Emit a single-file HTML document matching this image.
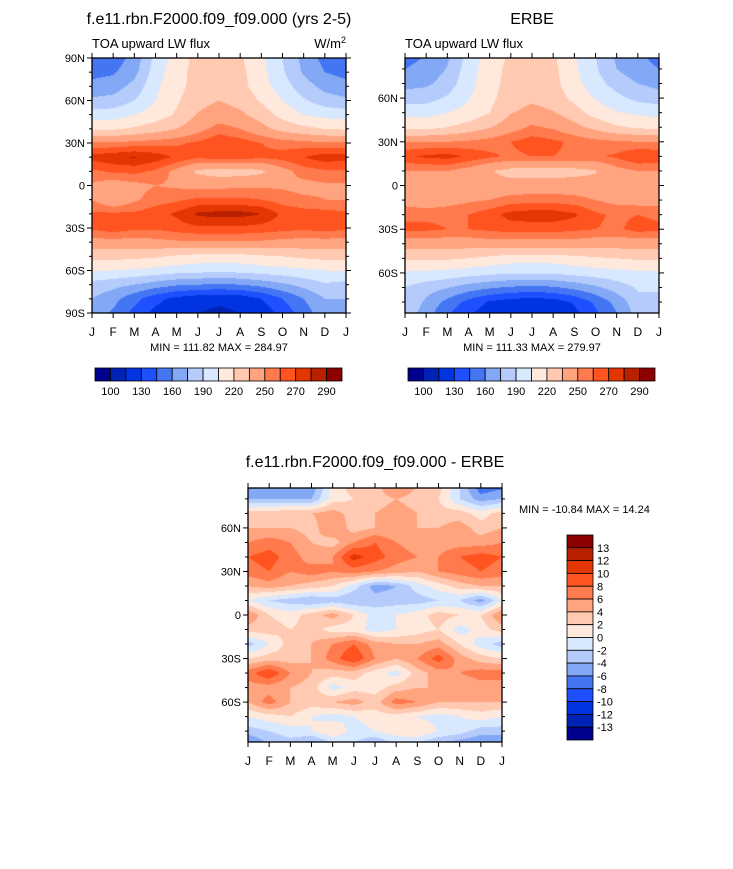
<!DOCTYPE html>
<html><head><meta charset="utf-8">
<style>
html,body{margin:0;padding:0;background:#fff;}
#wrap{position:relative;width:733px;height:869px;overflow:hidden;font-family:"Liberation Sans",Arial,sans-serif;}
canvas{position:absolute;}
svg{position:absolute;left:0;top:0;}
</style></head>
<body>
<div id="wrap">
<canvas id="c1" style="left:92px;top:58px" width="254" height="255"></canvas>
<canvas id="c2" style="left:405px;top:58px" width="254" height="255"></canvas>
<canvas id="c3" style="left:248px;top:488px" width="254" height="254"></canvas>
<svg id="ov" width="733" height="869"></svg>
</div>
<script>
// ---- data ----
const months = ["J","F","M","A","M","J","J","A","S","O","N","D","J"];
const lats = [90,80,70,60,50,40,30,20,10,0,-10,-20,-30,-40,-50,-60,-70,-80,-90];
const fluxLevels = [100,115,130,145,160,175,190,205,220,235,250,260,270,280,290];
const fluxLabels = ["100","130","160","190","220","250","270","290"];
const diffLevels = [-13,-12,-10,-8,-6,-4,-2,0,2,4,6,8,10,12,13];
const diffLabels = ["-13","-12","-10","-8","-6","-4","-2","0","2","4","6","8","10","12","13"];
const palette = ["#00008e","#0022b4","#0034e0","#1e50ff","#4476f4","#82a8f6","#b4cbfc","#d8e8fe","#ffe9dc","#ffc9b2","#ffa47e","#ff7a4c","#ff5320","#e43600","#b82000","#8c0000"];
const modelFlux = [
[150,152,165,195,212,225,228,222,208,190,170,155,150],
[155,158,170,198,214,226,228,224,210,192,173,160,155],
[165,168,180,202,215,226,228,225,212,197,182,170,165],
[178,180,190,205,218,230,235,230,218,205,192,182,178],
[198,198,205,212,222,236,242,238,228,215,205,200,198],
[218,218,222,228,235,245,255,250,240,230,224,220,218],
[252,252,254,256,258,262,268,265,260,256,254,252,252],
[274,278,281,276,268,262,265,265,262,264,270,276,274],
[258,262,263,258,246,232,228,228,232,245,255,258,258],
[248,242,246,250,248,246,246,248,248,248,246,248,248],
[250,238,248,255,258,262,262,262,260,255,252,250,250],
[262,262,262,266,272,282,284,284,280,268,265,264,262],
[262,266,262,262,265,268,268,268,266,264,262,265,262],
[245,245,245,246,248,248,248,248,248,246,245,245,245],
[225,225,224,222,218,215,215,215,218,220,223,225,225],
[205,205,203,200,197,195,195,195,198,200,202,205,205],
[185,180,175,168,162,160,158,160,165,172,180,188,185],
[175,165,150,135,125,120,118,120,130,145,160,175,175],
[165,158,140,125,118,115,112,115,120,135,152,170,165]];
const erbeFlux = [
[155,160,172,195,212,222,226,222,206,190,172,162,155],
[160,164,176,198,214,224,227,224,208,192,175,165,160],
[170,172,182,200,215,225,228,225,210,196,184,175,170],
[182,184,192,204,216,228,232,228,216,204,194,186,182],
[200,200,205,210,220,234,240,236,226,214,206,202,200],
[215,215,220,226,234,244,252,248,240,230,222,218,215],
[250,250,250,252,255,260,265,262,258,254,252,250,250],
[268,272,274,268,262,258,260,260,258,258,262,270,268],
[250,250,250,244,236,230,228,228,230,234,245,250,250],
[240,236,238,240,240,240,242,242,242,240,238,238,240],
[244,240,244,248,250,255,256,256,254,250,246,244,244],
[258,258,258,260,266,274,276,276,272,262,258,260,258],
[262,262,260,260,262,264,264,264,262,260,258,264,262],
[242,242,242,242,244,244,244,244,244,242,242,242,242],
[222,222,222,220,216,212,212,212,215,218,220,222,222],
[202,202,200,197,194,192,192,192,195,198,200,202,202],
[190,182,176,168,162,158,156,158,164,172,182,192,190],
[190,172,155,140,128,122,120,122,132,148,165,185,190],
[185,165,145,130,120,116,113,116,124,140,158,180,185]];
const diffField = [
[-7,-5,-4,-6,1,3,3,7,4,3,-2,-8,-7],
[-4,-4,-4,-4,1,2,3,4,3,2,-2,-5,-4],
[3,3,4,4,5,3,4,5,4,3,3,1,3],
[4,4,4,3,6,3,4,4,4,4,5,3,4],
[6,7,6,4,3,6,8,6,5,5,5,5,6],
[8,9,7,5,6,11,9,7,6,6,8,9,8],
[7,8,6,7,6,7,6,5,4,6,7,8,7],
[4,5,4,3,2,-1,-5,-4,-1,1,3,4,4],
[0,-2,-3,-4,-3,-4,-3,-3,-3,-2,-2,-5,0],
[6,2,1,3,5,2,-1,0,1,3,2,2,6],
[3,3,2,3,1,1,-1,0,1,2,-1,1,3],
[-3,0,3,4,6,8,5,4,4,5,2,-1,-3],
[2,3,3,4,7,10,6,4,6,9,5,3,2],
[7,10,6,4,3,3,1,-1,3,5,6,7,7],
[5,5,4,3,-1,1,1,3,4,4,4,5,5],
[4,7,4,3,4,5,3,7,6,4,4,4,4],
[0,1,2,0,-1,0,1,1,0,-1,0,1,0],
[-3,-2,-1,0,2,-1,0,1,2,0,-1,-3,-3],
[-7,-4,-3,-6,-3,-2,-5,-2,-3,-5,-6,-7,-7]];

// ---- drawing ----
function hex(c){return [parseInt(c.substr(1,2),16),parseInt(c.substr(3,2),16),parseInt(c.substr(5,2),16)];}
const palRGB = palette.map(hex);
function levelIndex(v,levels){let k=0;while(k<levels.length&&v>=levels[k])k++;return k;}
function sample(field,lat,t){
  let r=(90-lat)/10; r=Math.max(0,Math.min(18,r));
  let r0=Math.min(17,Math.floor(r)), fr=r-r0;
  let c0=Math.min(11,Math.floor(t)), fc=t-c0;
  const a=field[r0][c0],b=field[r0][c0+1],c=field[r0+1][c0],d=field[r0+1][c0+1];
  return (a*(1-fc)+b*fc)*(1-fr)+(c*(1-fc)+d*fc)*fr;
}
function drawField(id,field,levels,latTop,latBot){
  const cv=document.getElementById(id),ctx=cv.getContext('2d');
  const W=cv.width,H=cv.height,img=ctx.createImageData(W,H);
  for(let y=0;y<H;y++){
    const lat=latTop-(y+0.5)/H*(latTop-latBot);
    for(let x=0;x<W;x++){
      const t=(x+0.5)/W*12;
      const v=sample(field,lat,t);
      const col=palRGB[levelIndex(v,levels)];
      const i=(y*W+x)*4;img.data[i]=col[0];img.data[i+1]=col[1];img.data[i+2]=col[2];img.data[i+3]=255;
    }
  }
  ctx.putImageData(img,0,0);
}
drawField('c1',modelFlux,fluxLevels,90,-90);
drawField('c2',erbeFlux,fluxLevels,87.5,-87.5);
drawField('c3',diffField,diffLevels,87.5,-87.5);

const NS='http://www.w3.org/2000/svg';
const svg=document.getElementById('ov');
function el(tag,attrs,parent){const e=document.createElementNS(NS,tag);for(const k in attrs)e.setAttribute(k,attrs[k]);(parent||svg).appendChild(e);return e;}
function txt(x,y,s,size,anchor,name){const t=el('text',{x:x,y:y,'font-size':size,'text-anchor':anchor||'start',fill:'#000','font-family':'Liberation Sans, Arial, sans-serif'});


t.textContent=s;return t;}

function axes(x0,y0,w,h,latTop,latBot,labels,prefix){
  const g=el('g',{});
  
  
  el('rect',{x:x0,y:y0,width:w,height:h,fill:'none',stroke:'#000','stroke-width':1.3},g);
  const xs=t=>x0+t/12*w, ys=l=>y0+(latTop-l)/(latTop-latBot)*h;
  months.forEach((m,i)=>{
    const x=xs(i);
    el('line',{x1:x,x2:x,y1:y0+h,y2:y0+h+5,stroke:'#000','stroke-width':1},g);
    el('line',{x1:x,x2:x,y1:y0,y2:y0-5,stroke:'#000','stroke-width':1},g);
    txt(x,y0+h+23,m,12,'middle',prefix+'-month-label');
  });
  for(let l=-80;l<=80;l+=10){
    const y=ys(l);if(y<y0-0.5||y>y0+h+0.5)continue;
    const major=(l%30===0);const len=major?5:3;
    el('line',{x1:x0,x2:x0-len,y1:y,y2:y,stroke:'#000','stroke-width':1},g);
    el('line',{x1:x0+w,x2:x0+w+len,y1:y,y2:y,stroke:'#000','stroke-width':1},g);
  }
  [90,-90].forEach(l=>{const y=ys(l);if(y>=y0-0.5&&y<=y0+h+0.5){el('line',{x1:x0,x2:x0-5,y1:y,y2:y,stroke:'#000'},g);el('line',{x1:x0+w,x2:x0+w+5,y1:y,y2:y,stroke:'#000'},g);}});
  labels.forEach(([l,s])=>{txt(x0-7,ys(l)+4,s,11,'end',prefix+'-lat-label');});
}
function hbar(x0,y0,w,h,labelsArr,prefix){
  const n=palette.length,bw=w/n;
  for(let i=0;i<n;i++){const r=el('rect',{x:x0+i*bw,y:y0,width:bw,height:h,fill:palette[i],stroke:'#000','stroke-width':0.8});
    
    }
  labelsArr.forEach((s,j)=>{txt(x0+(2*j+1)*bw,y0+h+14,s,11,'middle',prefix+'-colorbar-label');});
}
txt(219,24,"f.e11.rbn.F2000.f09_f09.000 (yrs 2-5)",16,'middle','model-title');
txt(92,48,"TOA upward LW flux",13,'start','model-variable-label');
const u=txt(346,48,"W/m",13,'end','model-units');
const sup=document.createElementNS(NS,'tspan');sup.setAttribute('dy','-5');sup.setAttribute('font-size','9');sup.textContent='2';u.appendChild(sup);
axes(92,58,254,255,90,-90,[[90,'90N'],[60,'60N'],[30,'30N'],[0,'0'],[-30,'30S'],[-60,'60S'],[-90,'90S']],'model');
txt(219,351,"MIN = 111.82 MAX = 284.97",11,'middle','model-minmax');
hbar(95,368,247,13,fluxLabels,'model');
txt(532,24,"ERBE",16,'middle','erbe-title');
txt(405,48,"TOA upward LW flux",13,'start','erbe-variable-label');
axes(405,58,254,255,87.5,-87.5,[[60,'60N'],[30,'30N'],[0,'0'],[-30,'30S'],[-60,'60S']],'erbe');
txt(532,351,"MIN = 111.33 MAX = 279.97",11,'middle','erbe-minmax');
hbar(408,368,247,13,fluxLabels,'erbe');
txt(375,467,"f.e11.rbn.F2000.f09_f09.000 - ERBE",16,'middle','diff-title');
axes(248,488,254,254,87.5,-87.5,[[60,'60N'],[30,'30N'],[0,'0'],[-30,'30S'],[-60,'60S']],'diff');
txt(519,513,"MIN = -10.84 MAX =  14.24",11,'start','diff-minmax');
(function(){const x0=567,y0=535,w=26,h=205,n=palette.length,bh=h/n;
  for(let i=0;i<n;i++){const r=el('rect',{x:x0,y:y0+i*bh,width:w,height:bh,fill:palette[n-1-i],stroke:'#000','stroke-width':0.8});
    
    }
  const rev=diffLabels.slice().reverse();
  rev.forEach((s,j)=>{txt(x0+w+4,y0+(j+1)*bh+4,s,11,'start','diff-colorbar-label');});
})();
</script>
</body></html>
